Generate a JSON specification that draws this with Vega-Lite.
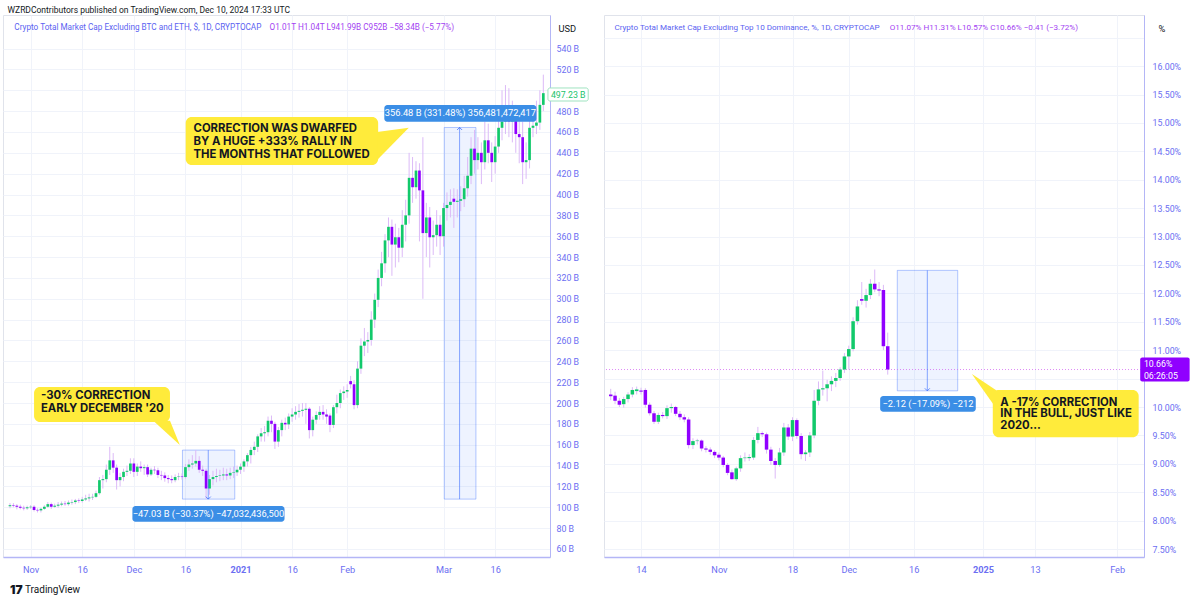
{
"$schema":"https://vega.github.io/schema/vega-lite/v6.json",
"background":"white",
"padding":{"left":2,"top":6,"right":5,"bottom":0},
"title":{"text":"WZRDContributors published on TradingView.com, Dec 10, 2024 17:33 UTC","anchor":"start","fontSize":8.5,"font":"Roboto","fontWeight":"normal","color":"#131722","dx":5,"offset":0},
"config":{"view":{"stroke":"#e0e3eb"},"font":"Roboto"},
"spacing":54,
"bounds":"flush",
"datasets":{
"L":[
{"d":"2020-10-26","o":101,"h":104,"l":99,"c":102},
{"d":"2020-10-27","o":102,"h":104,"l":100,"c":101.5},
{"d":"2020-10-28","o":101.5,"h":103,"l":98,"c":100.5},
{"d":"2020-10-29","o":100.5,"h":102.5,"l":98,"c":99.5},
{"d":"2020-10-30","o":99.5,"h":101.5,"l":97,"c":99},
{"d":"2020-10-31","o":99,"h":101.5,"l":97.5,"c":100},
{"d":"2020-11-01","o":100,"h":102,"l":98.5,"c":100.5},
{"d":"2020-11-02","o":100.5,"h":102,"l":96,"c":97.5},
{"d":"2020-11-03","o":97.5,"h":99,"l":95,"c":97},
{"d":"2020-11-04","o":97,"h":99.5,"l":95,"c":98.5},
{"d":"2020-11-05","o":98.5,"h":102,"l":97.5,"c":100.5},
{"d":"2020-11-06","o":100.5,"h":105,"l":99.5,"c":103},
{"d":"2020-11-07","o":103,"h":104.5,"l":98.5,"c":100.5},
{"d":"2020-11-08","o":100.5,"h":103.5,"l":99.5,"c":101.5},
{"d":"2020-11-09","o":101.5,"h":105,"l":99.5,"c":102.5},
{"d":"2020-11-10","o":102.5,"h":105.5,"l":101,"c":103.5},
{"d":"2020-11-11","o":103.5,"h":106,"l":101.5,"c":103},
{"d":"2020-11-12","o":103,"h":106.5,"l":101.5,"c":104.5},
{"d":"2020-11-13","o":104.5,"h":107.5,"l":102.5,"c":105},
{"d":"2020-11-14","o":105,"h":108,"l":103,"c":106.5},
{"d":"2020-11-15","o":106.5,"h":108.5,"l":104,"c":106},
{"d":"2020-11-16","o":106,"h":110,"l":104.5,"c":107.5},
{"d":"2020-11-17","o":107.5,"h":112,"l":106,"c":108.5},
{"d":"2020-11-18","o":108.5,"h":113,"l":105.5,"c":109.5},
{"d":"2020-11-19","o":109.5,"h":113,"l":107,"c":110},
{"d":"2020-11-20","o":110,"h":116,"l":109,"c":113.5},
{"d":"2020-11-21","o":113.5,"h":129,"l":112,"c":126},
{"d":"2020-11-22","o":126,"h":131,"l":118,"c":127},
{"d":"2020-11-23","o":127,"h":141,"l":124,"c":136},
{"d":"2020-11-24","o":136,"h":158,"l":131,"c":145},
{"d":"2020-11-25","o":145,"h":152,"l":133,"c":138},
{"d":"2020-11-26","o":138,"h":141,"l":117,"c":126},
{"d":"2020-11-27","o":126,"h":133,"l":120,"c":129},
{"d":"2020-11-28","o":129,"h":137,"l":125,"c":134},
{"d":"2020-11-29","o":134,"h":140,"l":130,"c":135},
{"d":"2020-11-30","o":135,"h":147,"l":132,"c":142},
{"d":"2020-12-01","o":142,"h":147,"l":129,"c":134},
{"d":"2020-12-02","o":134,"h":142,"l":130,"c":139},
{"d":"2020-12-03","o":139,"h":144,"l":134,"c":137.5},
{"d":"2020-12-04","o":137.5,"h":141,"l":131,"c":138.5},
{"d":"2020-12-05","o":138.5,"h":141,"l":129,"c":131.5},
{"d":"2020-12-06","o":131.5,"h":138,"l":130,"c":136},
{"d":"2020-12-07","o":136,"h":139.5,"l":132,"c":135.5},
{"d":"2020-12-08","o":135.5,"h":138,"l":128,"c":131},
{"d":"2020-12-09","o":131,"h":135,"l":126,"c":130.5},
{"d":"2020-12-10","o":130.5,"h":133.5,"l":124.5,"c":128},
{"d":"2020-12-11","o":128,"h":131,"l":123,"c":127},
{"d":"2020-12-12","o":127,"h":130.5,"l":123,"c":126},
{"d":"2020-12-13","o":126,"h":131.5,"l":124,"c":129},
{"d":"2020-12-14","o":129,"h":133,"l":126,"c":129.5},
{"d":"2020-12-15","o":129.5,"h":132.5,"l":126.5,"c":129},
{"d":"2020-12-16","o":129,"h":141.5,"l":127.5,"c":138.5},
{"d":"2020-12-17","o":138.5,"h":146,"l":135,"c":141},
{"d":"2020-12-18","o":141,"h":150,"l":137,"c":142},
{"d":"2020-12-19","o":142,"h":154.86,"l":139,"c":144.5},
{"d":"2020-12-20","o":144.5,"h":149,"l":133,"c":136},
{"d":"2020-12-21","o":136,"h":140,"l":130,"c":135},
{"d":"2020-12-22","o":135,"h":137,"l":107.83,"c":118},
{"d":"2020-12-23","o":118,"h":131,"l":112,"c":127},
{"d":"2020-12-24","o":127,"h":135,"l":121,"c":129},
{"d":"2020-12-25","o":129,"h":137,"l":124,"c":130},
{"d":"2020-12-26","o":130,"h":136,"l":125,"c":130.5},
{"d":"2020-12-27","o":130.5,"h":138,"l":126,"c":131.5},
{"d":"2020-12-28","o":131.5,"h":137,"l":126,"c":130.5},
{"d":"2020-12-29","o":130.5,"h":138,"l":127,"c":133},
{"d":"2020-12-30","o":133,"h":139,"l":128,"c":133.5},
{"d":"2020-12-31","o":133.5,"h":140,"l":130,"c":136},
{"d":"2021-01-01","o":136,"h":142,"l":132,"c":139},
{"d":"2021-01-02","o":139,"h":146,"l":134,"c":144},
{"d":"2021-01-03","o":144,"h":152,"l":139,"c":150},
{"d":"2021-01-04","o":150,"h":158,"l":142,"c":155},
{"d":"2021-01-05","o":155,"h":163,"l":150,"c":158},
{"d":"2021-01-06","o":158,"h":170,"l":153,"c":168},
{"d":"2021-01-07","o":168,"h":176,"l":163,"c":171},
{"d":"2021-01-08","o":171,"h":178,"l":163,"c":172},
{"d":"2021-01-09","o":172,"h":187,"l":168,"c":183},
{"d":"2021-01-10","o":183,"h":188,"l":172,"c":180},
{"d":"2021-01-11","o":180,"h":182,"l":156,"c":163},
{"d":"2021-01-12","o":163,"h":177,"l":158,"c":174},
{"d":"2021-01-13","o":174,"h":184,"l":168,"c":181},
{"d":"2021-01-14","o":181,"h":186,"l":174,"c":179.5},
{"d":"2021-01-15","o":179.5,"h":190,"l":175,"c":187},
{"d":"2021-01-16","o":187,"h":195,"l":182,"c":189},
{"d":"2021-01-17","o":189,"h":197,"l":184,"c":191.5},
{"d":"2021-01-18","o":191.5,"h":199,"l":186,"c":192.5},
{"d":"2021-01-19","o":192.5,"h":200,"l":187,"c":193.5},
{"d":"2021-01-20","o":193.5,"h":200,"l":180,"c":194.5},
{"d":"2021-01-21","o":194.5,"h":196,"l":166,"c":174},
{"d":"2021-01-22","o":174,"h":187,"l":168,"c":184},
{"d":"2021-01-23","o":184,"h":192,"l":180,"c":188.5},
{"d":"2021-01-24","o":188.5,"h":197,"l":184,"c":191.5},
{"d":"2021-01-25","o":191.5,"h":198,"l":184,"c":189},
{"d":"2021-01-26","o":189,"h":194,"l":180,"c":187},
{"d":"2021-01-27","o":188,"h":190,"l":172,"c":179},
{"d":"2021-01-28","o":179,"h":198,"l":176,"c":196},
{"d":"2021-01-29","o":196,"h":208,"l":190,"c":200},
{"d":"2021-01-30","o":200,"h":213,"l":195,"c":209.5},
{"d":"2021-01-31","o":209.5,"h":216,"l":203,"c":211},
{"d":"2021-02-01","o":211,"h":218,"l":205,"c":212.5},
{"d":"2021-02-02","o":221,"h":226,"l":214,"c":218},
{"d":"2021-02-03","o":218,"h":222,"l":194,"c":198},
{"d":"2021-02-04","o":198,"h":240,"l":195,"c":233},
{"d":"2021-02-05","o":233,"h":262,"l":228,"c":255},
{"d":"2021-02-06","o":255,"h":272,"l":245,"c":259},
{"d":"2021-02-07","o":259,"h":268,"l":248,"c":260.5},
{"d":"2021-02-08","o":260.5,"h":288,"l":255,"c":280},
{"d":"2021-02-09","o":280,"h":305,"l":272,"c":299},
{"d":"2021-02-10","o":299,"h":328,"l":292,"c":320},
{"d":"2021-02-11","o":320,"h":345,"l":312,"c":334},
{"d":"2021-02-12","o":334,"h":362,"l":325,"c":356},
{"d":"2021-02-13","o":356,"h":378,"l":340,"c":369},
{"d":"2021-02-14","o":369,"h":376,"l":322,"c":352},
{"d":"2021-02-15","o":352,"h":372,"l":330,"c":359},
{"d":"2021-02-16","o":359,"h":368,"l":335,"c":349},
{"d":"2021-02-17","o":349,"h":385,"l":340,"c":371},
{"d":"2021-02-18","o":371,"h":395,"l":355,"c":380},
{"d":"2021-02-19","o":380,"h":440,"l":372,"c":416},
{"d":"2021-02-20","o":416,"h":436,"l":392,"c":407},
{"d":"2021-02-21","o":407,"h":432,"l":396,"c":423},
{"d":"2021-02-22","o":423,"h":430,"l":355,"c":404},
{"d":"2021-02-23","o":404,"h":455,"l":300,"c":363},
{"d":"2021-02-24","o":363,"h":392,"l":340,"c":378},
{"d":"2021-02-25","o":378,"h":388,"l":330,"c":359},
{"d":"2021-02-26","o":359,"h":375,"l":342,"c":361},
{"d":"2021-02-27","o":361,"h":385,"l":350,"c":371},
{"d":"2021-02-28","o":371,"h":380,"l":342,"c":360},
{"d":"2021-03-01","o":360,"h":392,"l":350,"c":387},
{"d":"2021-03-02","o":387,"h":402,"l":375,"c":390},
{"d":"2021-03-03","o":390,"h":405,"l":378,"c":393},
{"d":"2021-03-04","o":396,"h":406,"l":368,"c":393},
{"d":"2021-03-05","o":393,"h":405,"l":378,"c":394},
{"d":"2021-03-06","o":394,"h":408,"l":384,"c":395.5},
{"d":"2021-03-07","o":395.5,"h":418,"l":388,"c":406},
{"d":"2021-03-08","o":406,"h":436,"l":398,"c":418},
{"d":"2021-03-09","o":418,"h":455,"l":410,"c":444},
{"d":"2021-03-10","o":444,"h":462,"l":420,"c":433},
{"d":"2021-03-11","o":433,"h":455,"l":424,"c":440},
{"d":"2021-03-12","o":440,"h":450,"l":410,"c":431},
{"d":"2021-03-13","o":431,"h":470,"l":424,"c":452},
{"d":"2021-03-14","o":452,"h":468,"l":430,"c":440},
{"d":"2021-03-15","o":440,"h":450,"l":412,"c":431},
{"d":"2021-03-16","o":431,"h":456,"l":420,"c":446},
{"d":"2021-03-17","o":446,"h":480,"l":440,"c":464},
{"d":"2021-03-18","o":464,"h":500,"l":452,"c":470},
{"d":"2021-03-19","o":470,"h":505,"l":458,"c":476},
{"d":"2021-03-20","o":476,"h":502,"l":455,"c":470},
{"d":"2021-03-21","o":470,"h":490,"l":450,"c":474},
{"d":"2021-03-22","o":474,"h":486,"l":440,"c":458},
{"d":"2021-03-23","o":458,"h":475,"l":430,"c":455},
{"d":"2021-03-24","o":455,"h":470,"l":410,"c":431},
{"d":"2021-03-25","o":431,"h":450,"l":415,"c":433},
{"d":"2021-03-26","o":433,"h":475,"l":425,"c":464},
{"d":"2021-03-27","o":464,"h":485,"l":455,"c":466},
{"d":"2021-03-28","o":466,"h":490,"l":458,"c":469},
{"d":"2021-03-29","o":469,"h":500,"l":462,"c":486},
{"d":"2021-03-30","o":486,"h":515,"l":480,"c":497.23}
],
"R":[
{"d":"2024-10-07","o":10.22,"h":10.32,"l":10.12,"c":10.19},
{"d":"2024-10-08","o":10.2,"h":10.27,"l":10.05,"c":10.11},
{"d":"2024-10-09","o":10.11,"h":10.16,"l":10.0,"c":10.04},
{"d":"2024-10-10","o":10.05,"h":10.18,"l":9.99,"c":10.14},
{"d":"2024-10-11","o":10.14,"h":10.26,"l":10.08,"c":10.22},
{"d":"2024-10-12","o":10.22,"h":10.35,"l":10.17,"c":10.3},
{"d":"2024-10-13","o":10.28,"h":10.36,"l":10.22,"c":10.31},
{"d":"2024-10-14","o":10.29,"h":10.34,"l":10.22,"c":10.27},
{"d":"2024-10-15","o":10.3,"h":10.33,"l":9.99,"c":10.04},
{"d":"2024-10-16","o":10.04,"h":10.08,"l":9.85,"c":9.89},
{"d":"2024-10-17","o":9.89,"h":9.93,"l":9.7,"c":9.74},
{"d":"2024-10-18","o":9.74,"h":9.9,"l":9.7,"c":9.86},
{"d":"2024-10-19","o":9.86,"h":9.91,"l":9.8,"c":9.84},
{"d":"2024-10-20","o":9.84,"h":10.03,"l":9.79,"c":9.98},
{"d":"2024-10-21","o":9.98,"h":10.06,"l":9.9,"c":10.0},
{"d":"2024-10-22","o":10.0,"h":10.02,"l":9.84,"c":9.88},
{"d":"2024-10-23","o":9.88,"h":9.93,"l":9.77,"c":9.82},
{"d":"2024-10-24","o":9.82,"h":9.87,"l":9.73,"c":9.78},
{"d":"2024-10-25","o":9.78,"h":9.82,"l":9.27,"c":9.33},
{"d":"2024-10-26","o":9.33,"h":9.45,"l":9.26,"c":9.4},
{"d":"2024-10-27","o":9.4,"h":9.44,"l":9.34,"c":9.41},
{"d":"2024-10-28","o":9.41,"h":9.43,"l":9.22,"c":9.27},
{"d":"2024-10-29","o":9.27,"h":9.31,"l":9.2,"c":9.25},
{"d":"2024-10-30","o":9.25,"h":9.29,"l":9.16,"c":9.21},
{"d":"2024-10-31","o":9.21,"h":9.24,"l":9.1,"c":9.15},
{"d":"2024-11-01","o":9.16,"h":9.2,"l":9.06,"c":9.11},
{"d":"2024-11-02","o":9.11,"h":9.14,"l":8.94,"c":8.98},
{"d":"2024-11-03","o":8.98,"h":9.01,"l":8.8,"c":8.84},
{"d":"2024-11-04","o":8.85,"h":8.9,"l":8.72,"c":8.73},
{"d":"2024-11-05","o":8.73,"h":8.95,"l":8.7,"c":8.92},
{"d":"2024-11-06","o":8.92,"h":9.15,"l":8.86,"c":9.1},
{"d":"2024-11-07","o":9.1,"h":9.2,"l":9.04,"c":9.11},
{"d":"2024-11-08","o":9.1,"h":9.17,"l":9.05,"c":9.12},
{"d":"2024-11-09","o":9.11,"h":9.47,"l":9.07,"c":9.42},
{"d":"2024-11-10","o":9.42,"h":9.65,"l":9.36,"c":9.54},
{"d":"2024-11-11","o":9.54,"h":9.57,"l":9.47,"c":9.52},
{"d":"2024-11-12","o":9.52,"h":9.55,"l":9.18,"c":9.25},
{"d":"2024-11-13","o":9.25,"h":9.3,"l":8.98,"c":9.05},
{"d":"2024-11-14","o":9.05,"h":9.1,"l":8.74,"c":8.98},
{"d":"2024-11-15","o":8.98,"h":9.28,"l":8.95,"c":9.2},
{"d":"2024-11-16","o":9.2,"h":9.72,"l":9.14,"c":9.64},
{"d":"2024-11-17","o":9.64,"h":9.7,"l":9.42,"c":9.48},
{"d":"2024-11-18","o":9.48,"h":9.82,"l":9.4,"c":9.77},
{"d":"2024-11-19","o":9.77,"h":9.8,"l":9.44,"c":9.49},
{"d":"2024-11-20","o":9.49,"h":9.54,"l":9.08,"c":9.17},
{"d":"2024-11-21","o":9.17,"h":9.24,"l":9.05,"c":9.2},
{"d":"2024-11-22","o":9.2,"h":9.56,"l":9.12,"c":9.5},
{"d":"2024-11-23","o":9.5,"h":10.3,"l":9.45,"c":10.11},
{"d":"2024-11-24","o":10.11,"h":10.45,"l":10.03,"c":10.31},
{"d":"2024-11-25","o":10.31,"h":10.64,"l":10.2,"c":10.33},
{"d":"2024-11-26","o":10.33,"h":10.48,"l":10.1,"c":10.4},
{"d":"2024-11-27","o":10.4,"h":10.54,"l":10.28,"c":10.46},
{"d":"2024-11-28","o":10.46,"h":10.6,"l":10.35,"c":10.51},
{"d":"2024-11-29","o":10.51,"h":10.7,"l":10.46,"c":10.66},
{"d":"2024-11-30","o":10.66,"h":10.95,"l":10.6,"c":10.89},
{"d":"2024-12-01","o":10.89,"h":11.08,"l":10.66,"c":11.02},
{"d":"2024-12-02","o":11.02,"h":11.58,"l":10.98,"c":11.51},
{"d":"2024-12-03","o":11.51,"h":11.88,"l":11.45,"c":11.77},
{"d":"2024-12-04","o":11.9,"h":12.2,"l":11.8,"c":11.87},
{"d":"2024-12-05","o":11.87,"h":12.08,"l":11.75,"c":11.97},
{"d":"2024-12-06","o":11.97,"h":12.25,"l":11.9,"c":12.17},
{"d":"2024-12-07","o":12.17,"h":12.42,"l":12.02,"c":12.07},
{"d":"2024-12-08","o":12.07,"h":12.2,"l":11.95,"c":12.05},
{"d":"2024-12-09","o":12.06,"h":12.15,"l":11.0,"c":11.07},
{"d":"2024-12-10","o":11.07,"h":11.31,"l":10.57,"c":10.66}
],
"Lbox":[{"x1":"2020-12-15T03:00:00Z","x2":"2020-12-30T08:00:00Z","y1":154.86,"y2":107.83},{"x1":"2021-03-01T05:00:00Z","x2":"2021-03-10T10:00:00Z","y1":464.31,"y2":107.83}],
"Larrow":[{"x":"2020-12-22T15:00:00Z","y1":154.86,"y2":107.83,"tip":107.83,"dir":"down"},{"x":"2021-03-05T16:00:00Z","y1":107.83,"y2":464.31,"tip":464.31,"dir":"up"}],
"Llabel":[{"x1":"2020-11-30T14:00:00Z","x2":"2021-01-13T19:00:00Z","y1":101.2,"y2":86.2,"xc":"2020-12-22T16:30:00Z","yc":93.7,"t":"−47.03 B (−30.37%) −47,032,436,500"},{"x1":"2021-02-11T19:00:00Z","x2":"2021-03-28T00:00:00Z","y1":485.9,"y2":469.9,"xc":"2021-03-05T21:40:00Z","yc":477.8,"t":"356.48 B (331.48%) 356,481,472,417"}],
"Lcall":[{"x1":"2020-11-02T00:00:00Z","x2":"2020-12-11T12:00:00Z","y1":215.4,"y2":181.8},{"x1":"2020-12-16T01:40:00Z","x2":"2021-02-10T00:00:00Z","y1":474.4,"y2":428.3}],
"Ltail1":[{"y":183,"x1":"2020-12-06T15:30:00Z","x2":"2020-12-11T12:00:00Z"},{"y":159.8,"x1":"2020-12-14T08:40:00Z","x2":"2020-12-14T08:40:00Z"}],
"Ltail2":[{"x":"2021-02-09T17:00:00Z","y1":460,"y2":433.2},{"x":"2021-02-18T21:40:00Z","y1":464.1,"y2":464.1}],
"Ltext":[{"x":"2020-11-04T00:00:00Z","y":206.8,"t":"-30% CORRECTION"},{"x":"2020-11-04T00:00:00Z","y":193.8,"t":"EARLY DECEMBER '20"},{"x":"2020-12-18T08:24:00Z","y":462.9,"t":"CORRECTION WAS DWARFED"},{"x":"2020-12-18T08:24:00Z","y":450.4,"t":"BY A HUGE +333% RALLY IN"},{"x":"2020-12-18T08:24:00Z","y":437.9,"t":"THE MONTHS THAT FOLLOWED"}],
"Lleg":[{"x":"2020-10-27T06:45:00Z","y":559.8,"k":"n","t":"Crypto Total Market Cap Excluding BTC and ETH, $, 1D, CRYPTOCAP"},{"x":"2021-01-09T11:00:00Z","y":559.8,"k":"v","t":"O1.01T  H1.04T  L941.99B  C952B  −58.34B (−5.77%)"}],
"Lprice":[{"x1":"2021-03-31T08:20:00Z","x2":"2021-04-12T01:00:00Z","y1":502.2,"y2":489.7,"xt":"2021-04-01T04:50:00Z","yt":495.9,"t":"497.23 B"}],
"Llogo":[{"x":"2020-10-26T00:00:00Z","y":20.67,"t":"17"}],
"Lfoot":[{"x":"2020-10-30T09:00:00Z","y":20.67,"t":"TradingView"}],
"Rbox":[{"x1":"2024-12-12T05:00:00Z","x2":"2024-12-26T04:00:00Z","y1":12.405,"y2":10.285}],
"Rarrow":[{"x":"2024-12-19T03:30:00Z","y1":12.405,"y2":10.285,"tip":10.285,"dir":"down"}],
"Rlabel":[{"x1":"2024-12-08T06:00:00Z","x2":"2024-12-30T08:10:00Z","y1":10.194,"y2":9.917,"xc":"2024-12-19T07:00:00Z","yc":10.056,"t":"−2.12 (−17.09%) −212"}],
"Rcall":[{"x1":"2025-01-03T06:30:00Z","x2":"2025-02-05T23:30:00Z","y1":10.299,"y2":9.467}],
"Rtail":[{"x":"2024-12-29T10:30:00Z","y1":10.581,"y2":10.581},{"x":"2025-01-04T16:00:00Z","y1":10.264,"y2":9.912}],
"Rtext":[{"x":"2025-01-05T00:00:00Z","y":10.076,"t":"A -17% CORRECTION"},{"x":"2025-01-05T00:00:00Z","y":9.872,"t":"IN THE BULL, JUST LIKE"},{"x":"2025-01-05T00:00:00Z","y":9.665,"t":"2020..."}],
"Rleg":[{"x":"2024-10-07T20:24:00Z","y":16.67,"k":"n","t":"Crypto Total Market Cap Excluding Top 10 Dominance, %, 1D, CRYPTOCAP"},{"x":"2024-12-10T11:00:00Z","y":16.67,"k":"v","t":"O11.07%  H11.31%  L10.57%  C10.66%  −0.41 (−3.72%)"}],
"Rline":[{"v":10.66}],
"Rprice":[{"x1":"2025-02-06T08:00:00Z","x2":"2025-02-17T18:00:00Z","y1":10.87,"y2":10.45}],
"Rptext":[{"xt":"2025-02-07T04:30:00Z","yt":10.757,"t":"10.66%"},{"xt":"2025-02-07T04:30:00Z","yt":10.546,"t":"06:26:05"}]
},
"hconcat":[
{
"width":547,"height":542,
"layer":[
{"data":{"name":"Lbox"},"mark":{"type":"rect","fill":"#2962ff","fillOpacity":0.08,"stroke":"#2962ff","strokeOpacity":0.35,"strokeWidth":1},
"encoding":{
"x":{"field":"x1","type":"temporal","scale":{"type":"utc","domain":[{"year":2020,"month":10,"date":25,"hours":10,"minutes":18,"utc":true},{"year":2021,"month":3,"date":30,"hours":11,"minutes":45,"utc":true}]},
"axis":{"values":[{"year":2020,"month":11,"date":1,"utc":true},{"year":2020,"month":11,"date":16,"utc":true},{"year":2020,"month":12,"date":1,"utc":true},{"year":2020,"month":12,"date":16,"utc":true},{"year":2021,"month":1,"date":1,"utc":true},{"year":2021,"month":1,"date":16,"utc":true},{"year":2021,"month":2,"date":1,"utc":true},{"year":2021,"month":3,"date":1,"utc":true},{"year":2021,"month":3,"date":16,"utc":true}],"tickCount":100,
"labelExpr":"utcdate(datum.value)==1 ? (utcmonth(datum.value)==0 ? utcFormat(datum.value,'%Y') : utcFormat(datum.value,'%b')) : utcFormat(datum.value,'%-d')",
"labelFontWeight":{"condition":{"test":"utcmonth(datum.value)==0 && utcdate(datum.value)==1","value":"bold"},"value":"normal"},
"title":null,"grid":true,"gridColor":"#f0f3fa","ticks":false,"domainColor":"#b4b6f6","domainWidth":1.5,"labelColor":"#6b6ef2","labelFontSize":9.2,"labelPadding":8,"labelFont":"Roboto","labelFlush":false,"labelOverlap":false}},
"x2":{"field":"x2"},
"y":{"field":"y1","type":"quantitative","scale":{"domain":[52.3,572.2],"nice":false,"zero":false},
"axis":{"orient":"right","values":[60,80,100,120,140,160,180,200,220,240,260,280,300,320,340,360,380,400,420,440,460,480,500,520,540],"tickCount":100,
"labelExpr":"datum.value==500 ? '' : datum.value + ' B'","title":"USD","titleAngle":0,"titleX":8,"titleY":13,"titleAlign":"left","titleBaseline":"middle","titleFontSize":9.3,"titleFontWeight":"normal","titleColor":"#131722","titleFont":"Roboto",
"grid":true,"gridColor":"#f0f3fa","ticks":false,"domainColor":"#b4b6f6","labelColor":"#6b6ef2","labelFontSize":8.8,"labelPadding":6,"labelFont":"Roboto","labelOverlap":false}},
"y2":{"field":"y2"}}},
{"data":{"name":"L"},"mark":{"type":"rule","color":"#dcbaf7","strokeWidth":1},
"encoding":{"x":{"field":"d","type":"temporal"},"y":{"field":"l","type":"quantitative"},"y2":{"field":"h"}}},
{"data":{"name":"L"},"mark":{"type":"bar","size":2.7},
"encoding":{"x":{"field":"d","type":"temporal"},"y":{"field":"o","type":"quantitative"},"y2":{"field":"c"},
"color":{"condition":{"test":"datum.c>=datum.o","value":"#12c96b"},"value":"#9000ff"}}},
{"data":{"name":"Larrow"},"mark":{"type":"rule","color":"#2962ff","opacity":0.55,"strokeWidth":1},
"encoding":{"x":{"field":"x","type":"temporal"},"y":{"field":"y1","type":"quantitative"},"y2":{"field":"y2"}}},
{"data":{"name":"Larrow"},"mark":{"type":"point","filled":false,"stroke":"#2962ff","strokeWidth":1,"opacity":0.7,"size":25},
"encoding":{"x":{"field":"x","type":"temporal"},"y":{"field":"tip","type":"quantitative"},
"shape":{"field":"dir","type":"nominal","scale":{"domain":["down","up"],"range":["M-1,-1L0,0L1,-1","M-1,1L0,0L1,1"]},"legend":null}}},
{"data":{"name":"Llabel"},"mark":{"type":"rect","fill":"#3b8ee6","cornerRadius":3},
"encoding":{"x":{"field":"x1","type":"temporal"},"x2":{"field":"x2"},"y":{"field":"y1","type":"quantitative"},"y2":{"field":"y2"}}},
{"data":{"name":"Llabel"},"mark":{"type":"text","color":"white","fontSize":9.3,"font":"Roboto","baseline":"middle"},
"encoding":{"x":{"field":"xc","type":"temporal"},"y":{"field":"yc","type":"quantitative"},"text":{"field":"t"}}},
{"data":{"name":"Lcall"},"mark":{"type":"rect","fill":"#ffeb3b","cornerRadius":6},
"encoding":{"x":{"field":"x1","type":"temporal"},"x2":{"field":"x2"},"y":{"field":"y1","type":"quantitative"},"y2":{"field":"y2"}}},
{"data":{"name":"Ltail1"},"mark":{"type":"area","fill":"#ffeb3b","orient":"horizontal"},
"encoding":{"y":{"field":"y","type":"quantitative"},"x":{"field":"x1","type":"temporal"},"x2":{"field":"x2"}}},
{"data":{"name":"Ltail2"},"mark":{"type":"area","fill":"#ffeb3b","orient":"vertical"},
"encoding":{"x":{"field":"x","type":"temporal"},"y":{"field":"y1","type":"quantitative"},"y2":{"field":"y2"}}},
{"data":{"name":"Ltext"},"mark":{"type":"text","align":"left","baseline":"middle","font":"Inter","fontWeight":"bold","fontSize":11.3,"color":"#131722"},
"encoding":{"x":{"field":"x","type":"temporal"},"y":{"field":"y","type":"quantitative"},"text":{"field":"t"}}},
{"data":{"name":"Lleg"},"mark":{"type":"text","align":"left","baseline":"middle","font":"Roboto","fontSize":8.2},
"encoding":{"x":{"field":"x","type":"temporal"},"y":{"field":"y","type":"quantitative"},"text":{"field":"t"},
"color":{"condition":{"test":"datum.k=='v'","value":"#a33ff2"},"value":"#5b62f1"}}},
{"data":{"name":"Lprice"},"mark":{"type":"rect","fill":"white","stroke":"#9fe3c0","strokeWidth":1,"cornerRadius":2},
"encoding":{"x":{"field":"x1","type":"temporal"},"x2":{"field":"x2"},"y":{"field":"y1","type":"quantitative"},"y2":{"field":"y2"}}},
{"data":{"name":"Lprice"},"mark":{"type":"text","align":"left","baseline":"middle","font":"Roboto","fontSize":8.8,"color":"#22c36b"},
"encoding":{"x":{"field":"xt","type":"temporal"},"y":{"field":"yt","type":"quantitative"},"text":{"field":"t"}}},
{"data":{"name":"Llogo"},"mark":{"type":"text","align":"left","baseline":"middle","font":"Inter","fontWeight":900,"fontSize":12,"color":"#131722"},
"encoding":{"x":{"field":"x","type":"temporal"},"y":{"field":"y","type":"quantitative"},"text":{"field":"t"}}},
{"data":{"name":"Lfoot"},"mark":{"type":"text","align":"left","baseline":"middle","font":"Roboto","fontSize":10,"color":"#131722"},
"encoding":{"x":{"field":"x","type":"temporal"},"y":{"field":"y","type":"quantitative"},"text":{"field":"t"}}}
]
},
{
"width":540,"height":542,
"layer":[
{"data":{"name":"Rbox"},"mark":{"type":"rect","fill":"#2962ff","fillOpacity":0.08,"stroke":"#2962ff","strokeOpacity":0.35,"strokeWidth":1},
"encoding":{
"x":{"field":"x1","type":"temporal","scale":{"type":"utc","domain":[{"year":2024,"month":10,"date":6,"hours":14,"minutes":28,"utc":true},{"year":2025,"month":2,"date":6,"hours":1,"minutes":16,"utc":true}]},
"axis":{"values":[{"year":2024,"month":10,"date":14,"utc":true},{"year":2024,"month":11,"date":1,"utc":true},{"year":2024,"month":11,"date":18,"utc":true},{"year":2024,"month":12,"date":1,"utc":true},{"year":2024,"month":12,"date":16,"utc":true},{"year":2025,"month":1,"date":1,"utc":true},{"year":2025,"month":1,"date":13,"utc":true},{"year":2025,"month":2,"date":1,"utc":true}],"tickCount":100,
"labelExpr":"utcdate(datum.value)==1 ? (utcmonth(datum.value)==0 ? utcFormat(datum.value,'%Y') : utcFormat(datum.value,'%b')) : utcFormat(datum.value,'%-d')",
"labelFontWeight":{"condition":{"test":"utcmonth(datum.value)==0 && utcdate(datum.value)==1","value":"bold"},"value":"normal"},
"title":null,"grid":true,"gridColor":"#f0f3fa","ticks":false,"domainColor":"#b4b6f6","domainWidth":1.5,"labelColor":"#6b6ef2","labelFontSize":9.2,"labelPadding":8,"labelFont":"Roboto","labelFlush":false,"labelOverlap":false}},
"x2":{"field":"x2"},
"y":{"field":"y1","type":"quantitative","scale":{"domain":[7.36,16.9],"nice":false,"zero":false},
"axis":{"orient":"right","values":[7.5,8,8.5,9,9.5,10,10.5,11,11.5,12,12.5,13,13.5,14,14.5,15,15.5,16,16.5],"tickCount":100,
"labelExpr":"(datum.value==10.5 || datum.value==16.5) ? '' : format(datum.value,'.2f') + '%'","title":"%","titleAngle":0,"titleX":14,"titleY":13,"titleAlign":"left","titleBaseline":"middle","titleFontSize":9.3,"titleFontWeight":"normal","titleColor":"#131722","titleFont":"Roboto",
"grid":true,"gridColor":"#f0f3fa","ticks":false,"domainColor":"#b4b6f6","labelColor":"#6b6ef2","labelFontSize":8.8,"labelPadding":8,"labelFont":"Roboto","labelOverlap":false}},
"y2":{"field":"y2"}}},
{"data":{"name":"Rline"},"mark":{"type":"rule","color":"#d66cf5","strokeDash":[1,2],"strokeWidth":1,"opacity":0.8},
"encoding":{"y":{"field":"v","type":"quantitative"}}},
{"data":{"name":"R"},"mark":{"type":"rule","color":"#dcbaf7","strokeWidth":1},
"encoding":{"x":{"field":"d","type":"temporal"},"y":{"field":"l","type":"quantitative"},"y2":{"field":"h"}}},
{"data":{"name":"R"},"mark":{"type":"bar","size":3.5},
"encoding":{"x":{"field":"d","type":"temporal"},"y":{"field":"o","type":"quantitative"},"y2":{"field":"c"},
"color":{"condition":{"test":"datum.c>=datum.o","value":"#12c96b"},"value":"#9000ff"}}},
{"data":{"name":"Rarrow"},"mark":{"type":"rule","color":"#2962ff","opacity":0.55,"strokeWidth":1},
"encoding":{"x":{"field":"x","type":"temporal"},"y":{"field":"y1","type":"quantitative"},"y2":{"field":"y2"}}},
{"data":{"name":"Rarrow"},"mark":{"type":"point","filled":false,"stroke":"#2962ff","strokeWidth":1,"opacity":0.7,"size":25},
"encoding":{"x":{"field":"x","type":"temporal"},"y":{"field":"tip","type":"quantitative"},
"shape":{"field":"dir","type":"nominal","scale":{"domain":["down","up"],"range":["M-1,-1L0,0L1,-1","M-1,1L0,0L1,1"]},"legend":null}}},
{"data":{"name":"Rlabel"},"mark":{"type":"rect","fill":"#3b8ee6","cornerRadius":3},
"encoding":{"x":{"field":"x1","type":"temporal"},"x2":{"field":"x2"},"y":{"field":"y1","type":"quantitative"},"y2":{"field":"y2"}}},
{"data":{"name":"Rlabel"},"mark":{"type":"text","color":"white","fontSize":9.3,"font":"Roboto","baseline":"middle"},
"encoding":{"x":{"field":"xc","type":"temporal"},"y":{"field":"yc","type":"quantitative"},"text":{"field":"t"}}},
{"data":{"name":"Rcall"},"mark":{"type":"rect","fill":"#ffeb3b","cornerRadius":6},
"encoding":{"x":{"field":"x1","type":"temporal"},"x2":{"field":"x2"},"y":{"field":"y1","type":"quantitative"},"y2":{"field":"y2"}}},
{"data":{"name":"Rtail"},"mark":{"type":"area","fill":"#ffeb3b","orient":"vertical"},
"encoding":{"x":{"field":"x","type":"temporal"},"y":{"field":"y1","type":"quantitative"},"y2":{"field":"y2"}}},
{"data":{"name":"Rtext"},"mark":{"type":"text","align":"left","baseline":"middle","font":"Inter","fontWeight":"bold","fontSize":11.3,"color":"#131722"},
"encoding":{"x":{"field":"x","type":"temporal"},"y":{"field":"y","type":"quantitative"},"text":{"field":"t"}}},
{"data":{"name":"Rleg"},"mark":{"type":"text","align":"left","baseline":"middle","font":"Roboto","fontSize":8.1},
"encoding":{"x":{"field":"x","type":"temporal"},"y":{"field":"y","type":"quantitative"},"text":{"field":"t"},
"color":{"condition":{"test":"datum.k=='v'","value":"#a33ff2"},"value":"#5b62f1"}}},
{"data":{"name":"Rprice"},"mark":{"type":"rect","fill":"#9000ff","cornerRadius":2},
"encoding":{"x":{"field":"x1","type":"temporal"},"x2":{"field":"x2"},"y":{"field":"y1","type":"quantitative"},"y2":{"field":"y2"}}},
{"data":{"name":"Rptext"},"mark":{"type":"text","align":"left","baseline":"middle","font":"Roboto","fontSize":8.8,"color":"white"},
"encoding":{"x":{"field":"xt","type":"temporal"},"y":{"field":"yt","type":"quantitative"},"text":{"field":"t"}}}
]
}
]
}
